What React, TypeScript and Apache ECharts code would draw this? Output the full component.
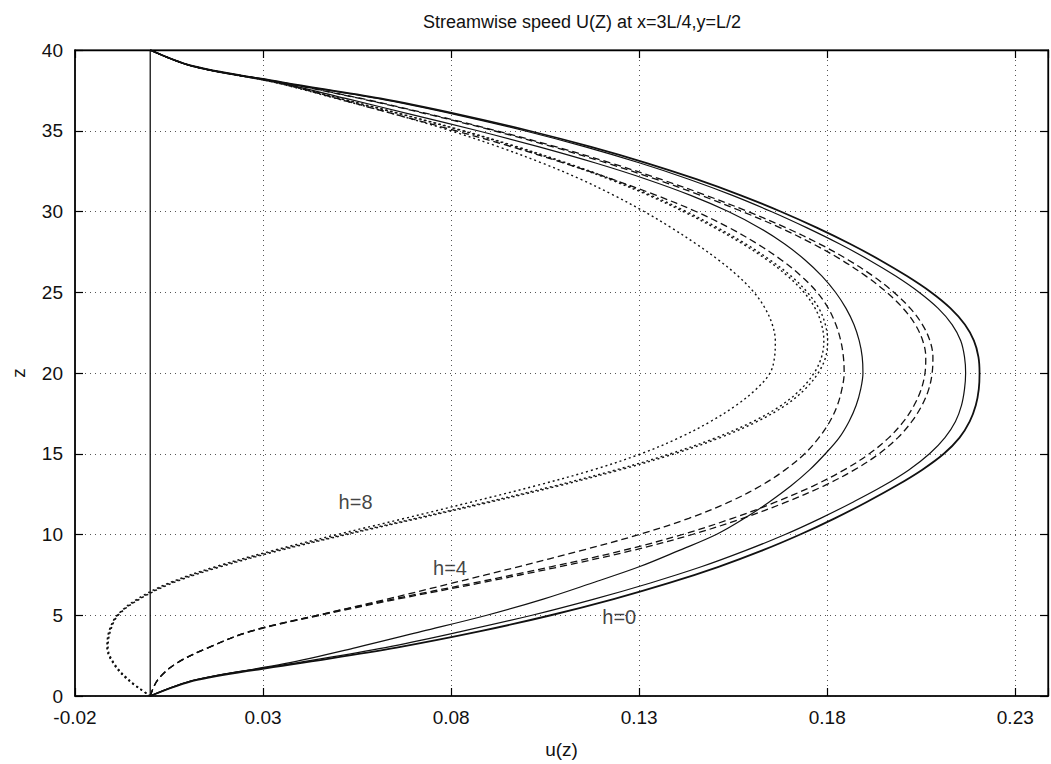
import React, { useEffect, useRef } from "react";
import * as echarts from "echarts";

const TITLE = "Streamwise speed U(Z) at x=3L/4,y=L/2";
const X_NAME = "u(z)";
const Y_NAME = "z";
const FONT = "'Liberation Sans', Arial, Helvetica, sans-serif";

// z levels (vertical positions) at which each profile is read
const Z = [0, 1, 2, 3, 4, 5, 6, 7, 8, 9, 10, 11, 12, 13, 14, 15, 16, 17, 18, 19, 20,
  21, 22, 23, 24, 25, 26, 27, 28, 29, 30, 31, 32, 33, 34, 35, 36, 37, 38, 39, 40];

// h=0 (solid)
const U_H0_A = [0, 0.012, 0.0357, 0.0547, 0.0722, 0.0895, 0.1045, 0.1175, 0.13, 0.1405, 0.1505,
  0.158, 0.1645, 0.1703, 0.1753, 0.1795, 0.1832, 0.1858, 0.1877, 0.1889, 0.1895,
  0.1893, 0.1885, 0.1871, 0.185, 0.1822, 0.1786, 0.1741, 0.1686, 0.1619, 0.1537,
  0.1437, 0.1319, 0.1184, 0.1034, 0.0871, 0.0696, 0.052, 0.034, 0.0112, 0];
const U_H0_B = [0, 0.012, 0.0375, 0.0625, 0.0828, 0.1015, 0.118, 0.133, 0.1465, 0.1582, 0.1688,
  0.1782, 0.1868, 0.1948, 0.2017, 0.2072, 0.2113, 0.2141, 0.2157, 0.2165, 0.2168,
  0.2165, 0.2155, 0.2132, 0.2095, 0.2044, 0.1982, 0.1911, 0.1832, 0.1745, 0.1651,
  0.1548, 0.1432, 0.1302, 0.1157, 0.0995, 0.0812, 0.0604, 0.0346, 0.0112, 0];
const U_H0_C = [0, 0.0125, 0.039, 0.0655, 0.0875, 0.1065, 0.1232, 0.138, 0.1511, 0.1626, 0.1728,
  0.182, 0.1904, 0.1982, 0.2052, 0.211, 0.2152, 0.2179, 0.2195, 0.2203, 0.2205,
  0.2202, 0.219, 0.2166, 0.2128, 0.2076, 0.2012, 0.194, 0.186, 0.1772, 0.1676,
  0.157, 0.1452, 0.132, 0.1172, 0.1007, 0.0822, 0.0612, 0.0352, 0.0115, 0];

// h=4 (dashed)
const U_H4_A = [0, 0.002, 0.0068, 0.0155, 0.0265, 0.0445, 0.063, 0.0805, 0.0978, 0.1145, 0.13,
  0.1432, 0.1538, 0.1622, 0.1688, 0.174, 0.1778, 0.1807, 0.1827, 0.1839, 0.1845,
  0.1843, 0.1836, 0.1823, 0.1803, 0.1773, 0.1731, 0.1678, 0.1614, 0.1539, 0.1451,
  0.1346, 0.1228, 0.11, 0.0962, 0.0812, 0.0654, 0.0496, 0.0338, 0.0112, 0];
const U_H4_B = [0, 0.002, 0.0068, 0.0155, 0.0265, 0.0445, 0.0645, 0.086, 0.1065, 0.1255, 0.1415,
  0.1548, 0.1662, 0.1762, 0.1845, 0.1912, 0.1964, 0.2003, 0.2031, 0.205, 0.206,
  0.2062, 0.2054, 0.2034, 0.2002, 0.1958, 0.1903, 0.1838, 0.1762, 0.1674, 0.1574,
  0.1464, 0.1344, 0.1214, 0.1071, 0.0914, 0.0742, 0.0557, 0.0347, 0.0113, 0];
const U_H4_C = [0, 0.002, 0.0068, 0.0155, 0.0268, 0.0452, 0.0658, 0.0878, 0.1088, 0.128, 0.1441,
  0.1575, 0.169, 0.179, 0.1872, 0.1938, 0.1988, 0.2025, 0.2052, 0.207, 0.2079,
  0.2081, 0.2073, 0.2053, 0.2021, 0.1977, 0.1922, 0.1856, 0.1779, 0.169, 0.1589,
  0.1478, 0.1357, 0.1225, 0.108, 0.0921, 0.0748, 0.0561, 0.0349, 0.0113, 0];

// h=8 (dotted)
const U_H8_A = [0, -0.006, -0.0098, -0.0115, -0.011, -0.0088, -0.0035, 0.005, 0.0172, 0.0325, 0.0497,
  0.0677, 0.0852, 0.1022, 0.1177, 0.1305, 0.1407, 0.149, 0.1558, 0.1611, 0.1648,
  0.166, 0.1662, 0.1654, 0.1635, 0.1605, 0.1563, 0.1511, 0.1451, 0.1385, 0.1313,
  0.1233, 0.1144, 0.1042, 0.0927, 0.0799, 0.0654, 0.0494, 0.0329, 0.0111, 0];
const U_H8_B = [0, -0.0058, -0.0097, -0.0114, -0.0108, -0.0087, -0.003, 0.0055, 0.018, 0.0335, 0.0515,
  0.0705, 0.0893, 0.1073, 0.1238, 0.1383, 0.1505, 0.1603, 0.1678, 0.173, 0.1765,
  0.1785, 0.1791, 0.1785, 0.1768, 0.1738, 0.1695, 0.164, 0.1575, 0.15, 0.1417,
  0.1325, 0.122, 0.1102, 0.0972, 0.0829, 0.0671, 0.0503, 0.033, 0.0112, 0];
const U_H8_C = [0, -0.0056, -0.0095, -0.0112, -0.0106, -0.0085, -0.0028, 0.006, 0.0187, 0.0343, 0.0523,
  0.0714, 0.0903, 0.1084, 0.1249, 0.1394, 0.1516, 0.1614, 0.1689, 0.1741, 0.1776,
  0.1796, 0.1801, 0.1795, 0.1778, 0.1747, 0.1704, 0.1648, 0.1583, 0.1508, 0.1425,
  0.1332, 0.1227, 0.1108, 0.0977, 0.0833, 0.0674, 0.0505, 0.0332, 0.0112, 0];

// vertical wall line u = 0
const WALL_U = [0, 0];
const WALL_Z = [0, 40];

// curve labels (data coordinates)
const LABEL_TEXT = ["h=8", "h=4", "h=0"];
const LABEL_U = [0.0546, 0.0797, 0.1247];
const LABEL_Z = [12.0, 7.95, 4.9];

const X_MIN = -0.02;
const X_MAX = 0.2387;
const X_STEP = 0.05;
const Y_MIN = 0;
const Y_MAX = 40;
const Y_STEP = 5;

const SOLID = "solid";
const DASHED = [7, 4];
const DOTTED = [2, 3];

const CURVES = [
  { u: U_H0_A, dash: SOLID, width: 1.2 },
  { u: U_H0_B, dash: SOLID, width: 1.2 },
  { u: U_H0_C, dash: SOLID, width: 1.8 },
  { u: U_H4_A, dash: DASHED, width: 1.3 },
  { u: U_H4_B, dash: DASHED, width: 1.3 },
  { u: U_H4_C, dash: DASHED, width: 1.3 },
  { u: U_H8_A, dash: DOTTED, width: 1.4 },
  { u: U_H8_B, dash: DOTTED, width: 1.4 },
  { u: U_H8_C, dash: DOTTED, width: 1.4 },
];

function xLabel(v: number): string {
  const k = (v - X_MIN) / X_STEP;
  if (Math.abs(k - Math.round(k)) > 1e-6) return "";
  return v.toFixed(2);
}

export default function App() {
  const ref = useRef<HTMLDivElement>(null);

  useEffect(() => {
    if (!ref.current) return;
    const chart = echarts.init(ref.current, null, { renderer: "svg" });

    const ink = "#111";
    const gridLine = { show: true, lineStyle: { type: [1, 4] as any, color: "#555", width: 1 } };

    const series: any[] = CURVES.map((c, i) => ({
      type: "line",
      name: "curve" + i,
      data: Z.map((z, j) => [c.u[j], z]),
      showSymbol: false,
      symbol: "none",
      smooth: 0.35,
      silent: true,
      lineStyle: { color: ink, width: c.width, type: c.dash },
      z: 3,
    }));

    series.push({
      type: "line",
      name: "wall",
      data: WALL_U.map((u, i) => [u, WALL_Z[i]]),
      showSymbol: false,
      symbol: "none",
      silent: true,
      lineStyle: { color: ink, width: 1.3, type: "solid" },
      z: 3,
    });

    series.push({
      type: "scatter",
      name: "labels",
      symbolSize: 1,
      silent: true,
      itemStyle: { color: "rgba(0,0,0,0)" },
      data: LABEL_TEXT.map((t, i) => ({ name: t, value: [LABEL_U[i], LABEL_Z[i]] })),
      label: {
        show: true,
        position: "inside",
        formatter: (p: any) => p.name,
        fontFamily: FONT,
        fontSize: 20,
        color: ink,
      },
      z: 5,
    });

    chart.setOption({
      animation: false,
      backgroundColor: "#ffffff",
      title: {
        text: TITLE,
        left: 577,
        top: 8,
        textAlign: "center",
        textStyle: { fontFamily: FONT, fontSize: 18, fontWeight: "normal", color: ink },
      },
      grid: {
        left: 75,
        right: -2,
        top: 50,
        bottom: 66,
        show: true,
        borderColor: "#000",
        borderWidth: 1.2,
      },
      xAxis: [
        {
          type: "value",
          min: X_MIN,
          max: X_MAX,
          interval: X_STEP,
          name: X_NAME,
          nameLocation: "middle",
          nameGap: 44,
          nameTextStyle: { fontFamily: FONT, fontSize: 19, color: ink },
          axisLine: { show: true, onZero: false, lineStyle: { color: "#000", width: 1.5 } },
          axisTick: { show: true, inside: true, length: 8, lineStyle: { color: "#000", width: 1.2 } },
          axisLabel: {
            formatter: xLabel,
            margin: 13,
            lineHeight: 17,
            fontFamily: FONT,
            fontSize: 19,
            color: ink,
          },
          splitLine: gridLine,
        },
        {
          type: "value",
          position: "top",
          min: X_MIN,
          max: X_MAX,
          interval: X_STEP,
          axisLine: { show: true, onZero: false, lineStyle: { color: "#000", width: 1.3 } },
          axisTick: { show: true, inside: true, length: 8, lineStyle: { color: "#000", width: 1.2 } },
          axisLabel: { show: false },
          splitLine: { show: false },
        },
      ],
      yAxis: [
        {
          type: "value",
          min: Y_MIN,
          max: Y_MAX,
          interval: Y_STEP,
          name: Y_NAME,
          nameLocation: "middle",
          nameGap: 47,
          nameRotate: 90,
          nameTextStyle: { fontFamily: FONT, fontSize: 19, color: ink },
          axisLine: { show: true, onZero: false, lineStyle: { color: "#000", width: 1.5 } },
          axisTick: { show: true, inside: true, length: 8, lineStyle: { color: "#000", width: 1.2 } },
          axisLabel: { margin: 12, lineHeight: 17, fontFamily: FONT, fontSize: 19, color: ink },
          splitLine: gridLine,
        },
        {
          type: "value",
          position: "right",
          min: Y_MIN,
          max: Y_MAX,
          interval: Y_STEP,
          axisLine: { show: true, onZero: false, lineStyle: { color: "#000", width: 1.3 } },
          axisTick: { show: true, inside: true, length: 8, lineStyle: { color: "#000", width: 1.2 } },
          axisLabel: { show: false },
          splitLine: { show: false },
        },
      ],
      series,
    });

    return () => chart.dispose();
  }, []);

  return (
    <div
      ref={ref}
      style={{ position: "fixed", left: 0, top: 0, width: 1051, height: 764, background: "#fff" }}
    />
  );
}
